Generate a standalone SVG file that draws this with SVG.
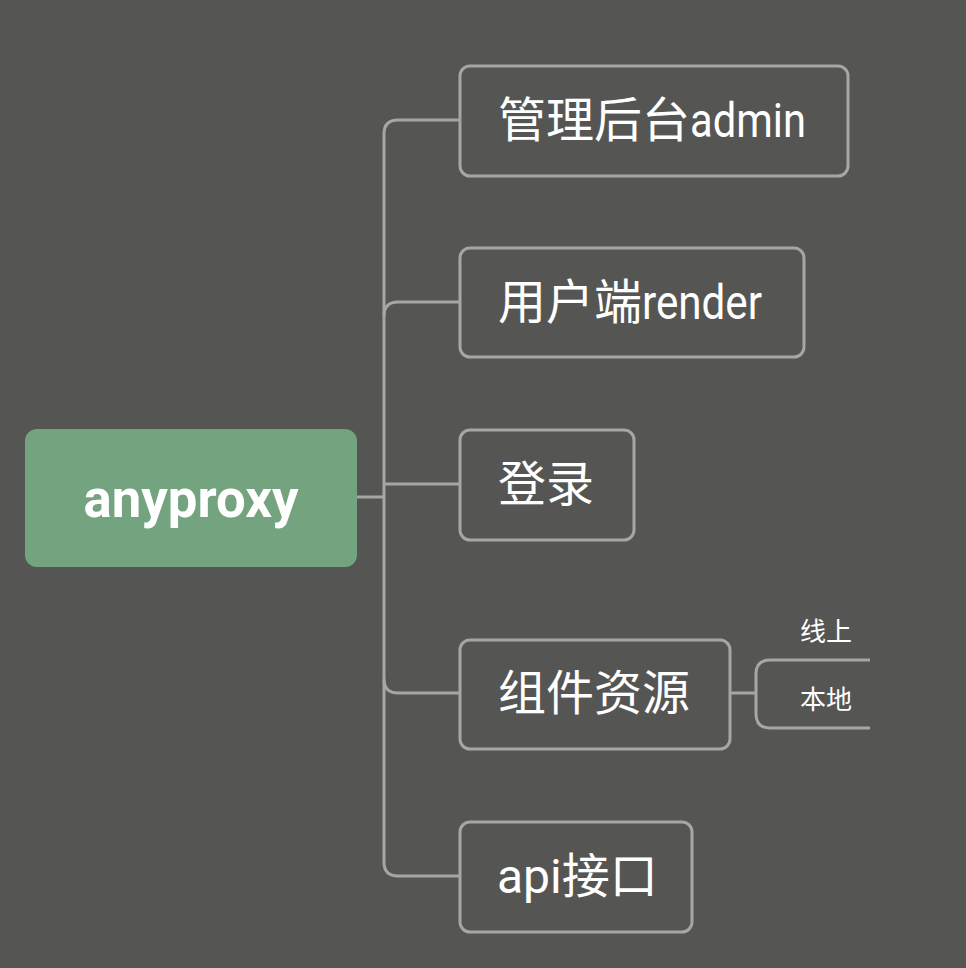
<svg xmlns="http://www.w3.org/2000/svg" width="966" height="968" viewBox="0 0 966 968">
<style>
.box{fill:#555653;stroke:#a6a7a3;stroke-width:3}
.line{fill:none;stroke:#a6a7a3;stroke-width:3}
.t{fill:#ffffff;font-family:Roboto,"Noto Sans CJK SC",sans-serif;font-size:48px;dominant-baseline:central}
.s{fill:#ffffff;font-family:Roboto,"Noto Sans CJK SC",sans-serif;font-size:26px;text-anchor:middle;dominant-baseline:central}
.r{fill:#ffffff;font-family:Roboto,sans-serif;font-size:54px;font-weight:bold;text-anchor:middle;dominant-baseline:central}
</style>
<rect width="966" height="968" fill="#555653"/>
<g id="connectors">
<path class="line" d="M357 497 H384"/>
<path class="line" d="M460 120 H398 Q384 120 384 134 V862 Q384 876 398 876 H460"/>
<path class="line" d="M460 302 H398 Q384 302 384 316"/>
<path class="line" d="M384 484 H460"/>
<path class="line" d="M460 693 H398 Q384 693 384 679"/>
<path class="line" d="M730 693 H756"/>
<path class="line" d="M870 660 H770 Q756 660 756 674 V714 Q756 728 770 728 H870"/>
</g>
<g id="root">
<rect x="25" y="429" width="332" height="138" rx="12" fill="#73a37f"/>
<text class="r" x="191" y="498" textLength="215" lengthAdjust="spacingAndGlyphs">anyproxy</text>
</g>
<g id="admin">
<rect class="box" x="460" y="66" width="388" height="110" rx="10"/>
<text class="t" x="498" y="120">管理后台<tspan textLength="116" lengthAdjust="spacingAndGlyphs">admin</tspan></text>
</g>
<g id="render">
<rect class="box" x="460" y="248" width="344" height="109" rx="10"/>
<text class="t" x="498" y="302">用户端<tspan textLength="120" lengthAdjust="spacingAndGlyphs">render</tspan></text>
</g>
<g id="login">
<rect class="box" x="460" y="430" width="174" height="110" rx="10"/>
<text class="t" x="498" y="484">登录</text>
</g>
<g id="components">
<rect class="box" x="460" y="640" width="270" height="109" rx="10"/>
<text class="t" x="498" y="693">组件资源</text>
</g>
<g id="api">
<rect class="box" x="460" y="822" width="232" height="110" rx="10"/>
<text class="t" x="497" y="876">api接口</text>
</g>
<g id="online">
<text class="s" x="826" y="632">线上</text>
</g>
<g id="local">
<text class="s" x="826" y="700">本地</text>
</g>
</svg>
